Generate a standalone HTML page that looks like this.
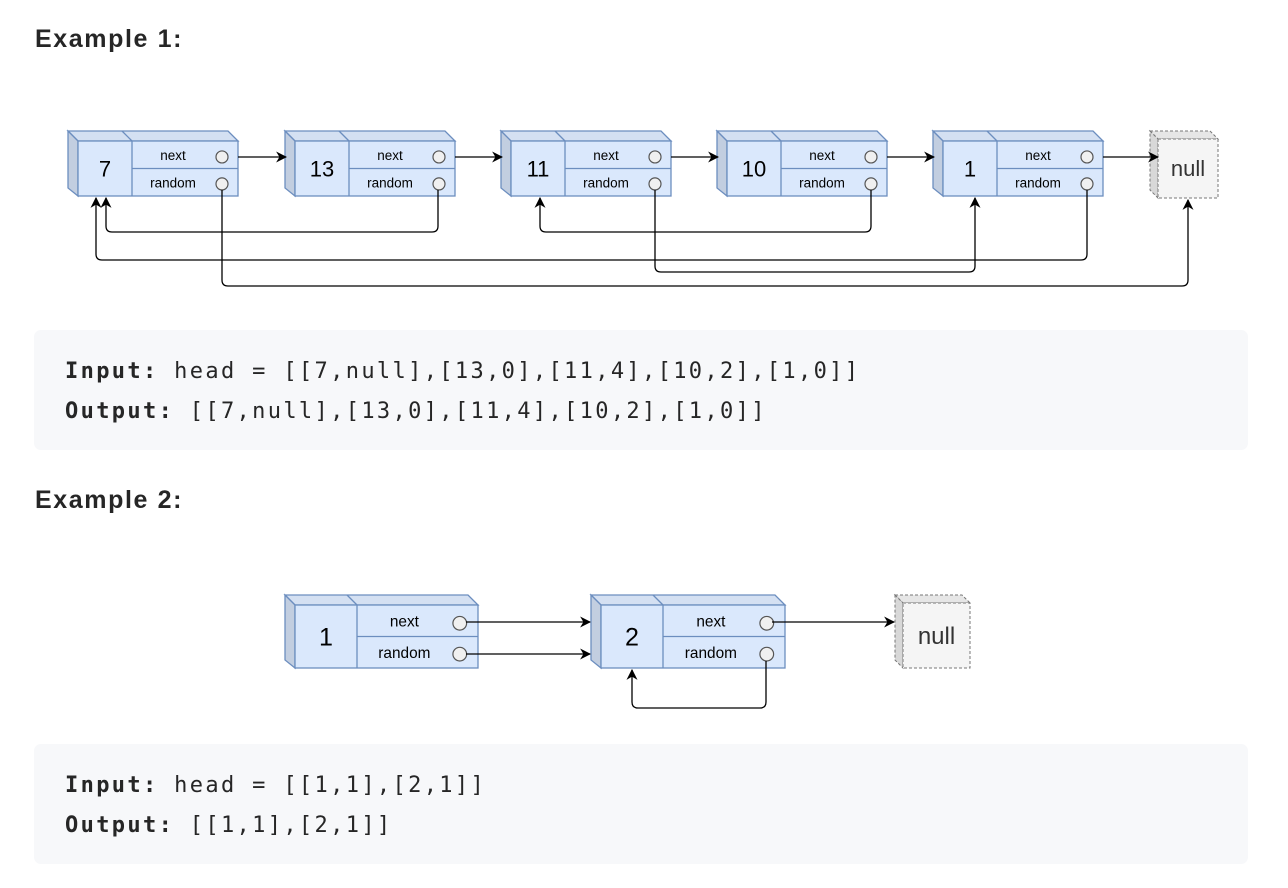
<!DOCTYPE html>
<html><head><meta charset="utf-8">
<style>
body{margin:0;width:1288px;height:888px;background:#fff;overflow:hidden;font-family:"Liberation Sans",sans-serif;}
svg{position:absolute;left:0;top:0}
</style></head><body>
<svg id="s" width="1288" height="888" xmlns="http://www.w3.org/2000/svg">
<defs>
<marker id="a" viewBox="0 0 10 10" refX="9" refY="5" markerWidth="11" markerHeight="11" markerUnits="userSpaceOnUse" orient="auto"><path d="M0,0 L10,5 L0,10 L3,5 z" fill="#000"/></marker>
</defs>
<text x="35" y="47" font-size="25" font-weight="bold" fill="#262626" letter-spacing="1.6">Example 1:</text>
<text x="35" y="508" font-size="25" font-weight="bold" fill="#262626" letter-spacing="1.6">Example 2:</text>
<rect x="34" y="330" width="1214" height="120" rx="7" fill="#f7f8fa"/>
<rect x="34" y="744" width="1214" height="120" rx="7" fill="#f7f8fa"/>
<g font-family="'DejaVu Sans Mono','Liberation Mono',monospace" font-size="22" fill="#262626" letter-spacing="2.35">
<text x="65" y="378"><tspan font-weight="bold">Input:</tspan> head = [[7,null],[13,0],[11,4],[10,2],[1,0]]</text>
<text x="65" y="418"><tspan font-weight="bold">Output:</tspan> [[7,null],[13,0],[11,4],[10,2],[1,0]]</text>
<text x="65" y="792"><tspan font-weight="bold">Input:</tspan> head = [[1,1],[2,1]]</text>
<text x="65" y="832"><tspan font-weight="bold">Output:</tspan> [[1,1],[2,1]]</text>
</g>
<g id="g"></g>
</svg>
<script>
var g=document.getElementById('g'),h='';
function node(x0,y0,W,H,D,lab,k){
 var fx=x0+10,fy=y0+10,dx=fx+D,bw=W,bh=H,my=fy+bh/2;
 var st='stroke="#6c8ebf" stroke-width="1.3"';
 h+='<polygon points="'+x0+','+y0+' '+(fx+bw-10)+','+y0+' '+(fx+bw)+','+fy+' '+fx+','+fy+'" fill="#d4e0f2" '+st+'/>';
 h+='<line x1="'+(dx-10)+'" y1="'+y0+'" x2="'+dx+'" y2="'+fy+'" '+st+'/>';
 h+='<polygon points="'+x0+','+y0+' '+fx+','+fy+' '+fx+','+(fy+bh)+' '+x0+','+(fy+bh-8)+'" fill="#c2cee0" '+st+'/>';
 h+='<rect x="'+fx+'" y="'+fy+'" width="'+bw+'" height="'+bh+'" fill="#dae8fc" '+st+'/>';
 h+='<line x1="'+dx+'" y1="'+fy+'" x2="'+dx+'" y2="'+(fy+bh)+'" '+st+'/>';
 h+='<line x1="'+dx+'" y1="'+my+'" x2="'+(fx+bw)+'" y2="'+my+'" '+st+'/>';
 var fs=k*13.5;
 h+='<text x="'+(fx+D/2)+'" y="'+(my+8*k)+'" font-size="'+(k*22)+'" text-anchor="middle" fill="#000">'+lab+'</text>';
 var cx=fx+bw-16*k;
 h+='<text x="'+((dx+cx)/2-4)+'" y="'+(fy+bh*0.25+5*k)+'" font-size="'+fs+'" text-anchor="middle">next</text>';
 h+='<text x="'+((dx+cx)/2-4)+'" y="'+(fy+bh*0.75+5*k)+'" font-size="'+fs+'" text-anchor="middle">random</text>';
 h+='<circle cx="'+cx+'" cy="'+(fy+bh*0.29)+'" r="'+(6*k)+'" fill="#f0f0f0" stroke="#555" stroke-width="1.2"/>';
 h+='<circle cx="'+cx+'" cy="'+(fy+bh*0.78)+'" r="'+(6*k)+'" fill="#f0f0f0" stroke="#555" stroke-width="1.2"/>';
}
function nul(x0,y0,W,H,fs){
 var fx=x0+8,fy=y0+8;
 h+='<polygon points="'+x0+','+y0+' '+(fx+W-8)+','+y0+' '+(fx+W)+','+fy+' '+fx+','+fy+'" fill="#e6e6e6" stroke="#777" stroke-dasharray="3,2"/>';
 h+='<polygon points="'+x0+','+y0+' '+fx+','+fy+' '+fx+','+(fy+H)+' '+x0+','+(fy+H-8)+'" fill="#d8d8d8" stroke="#777" stroke-dasharray="3,2"/>';
 h+='<rect x="'+fx+'" y="'+fy+'" width="'+W+'" height="'+H+'" fill="#f5f5f5" stroke="#777" stroke-dasharray="3,2"/>';
 h+='<text x="'+(fx+W/2)+'" y="'+(fy+H/2+fs*0.35)+'" font-size="'+fs+'" text-anchor="middle" fill="#333">null</text>';
}
function p(d){h+='<path d="'+d+'" fill="none" stroke="#000" stroke-width="1.3" stroke-linejoin="round" marker-end="url(#a)"/>';}
var xs=[68,285,501,717,933],ls=['7','13','11','10','1'];
for(var i=0;i<5;i++)node(xs[i],131,160,55,54,ls[i],1);
nul(1150,131,60,59,22);
for(var i=0;i<5;i++){var sx=xs[i]+160+4;p('M'+(sx+6)+',157 L'+(i<4?xs[i+1]+1:1158)+',157');}
p('M438,190 L438,226 Q438,232 432,232 L112,232 Q106,232 106,226 L106,198');
p('M1087,190 L1087,254 Q1087,260 1081,260 L102,260 Q96,260 96,254 L96,198');
p('M222,190 L222,280 Q222,286 228,286 L1182,286 Q1188,286 1188,280 L1188,200');
p('M655,190 L655,266 Q655,272 661,272 L969,272 Q975,272 975,266 L975,198');
p('M871,190 L871,226 Q871,232 865,232 L546,232 Q540,232 540,226 L540,198');
node(285,595,183,63,62,'1',1.14);
node(591,595,184,63,62,'2',1.14);
nul(895,595,67,65,24);
p('M466,622 L590,622');
p('M466,654 L590,654');
p('M772,622 L894,622');
p('M766,661 L766,702 Q766,708 760,708 L638,708 Q632,708 632,702 L632,670');
g.innerHTML=h;
</script>
</body></html>
